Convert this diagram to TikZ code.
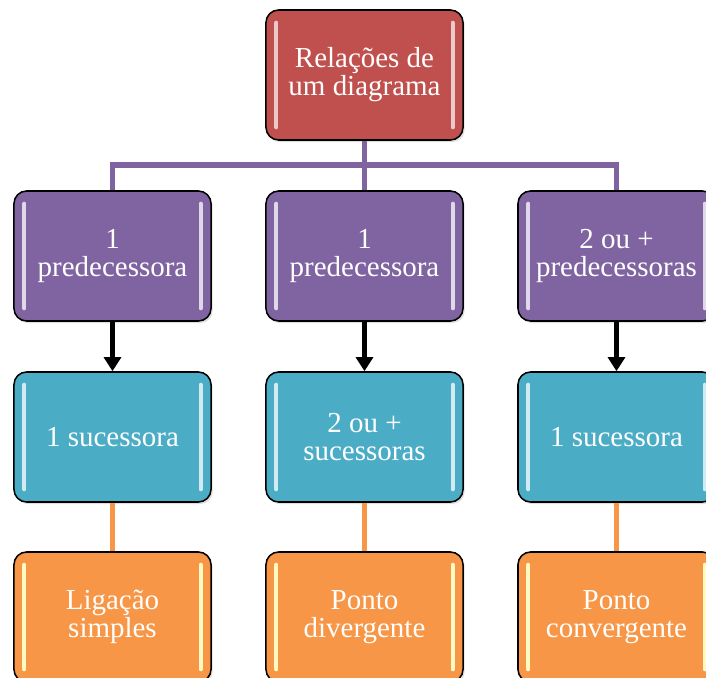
\documentclass[tikz,border=0pt]{standalone}
\usepackage{fontspec}
\setmainfont{Liberation Serif}
\usetikzlibrary{arrows.meta,shadows}
\definecolor{rootred}{HTML}{C0504D}
\definecolor{predpurple}{HTML}{8064A2}
\definecolor{succblue}{HTML}{4BACC6}
\definecolor{resorange}{HTML}{F79646}
\tikzset{
  box/.style={draw=black, line width=1.1pt, rounded corners=9pt,
    minimum width=4.925cm, minimum height=3.25cm, align=center,
    text=white, font=\fontsize{20.6}{20}\selectfont,
    drop shadow={opacity=0.25, shadow xshift=1.2pt, shadow yshift=-1.5pt},
    path picture={
      \draw[#1, line width=3pt, line cap=round]
        ([xshift=0.26cm,yshift=-0.32cm]path picture bounding box.north west)
        -- ([xshift=0.26cm,yshift=0.32cm]path picture bounding box.south west);
      \draw[#1, line width=3pt, line cap=round]
        ([xshift=-0.26cm,yshift=-0.32cm]path picture bounding box.north east)
        -- ([xshift=-0.26cm,yshift=0.32cm]path picture bounding box.south east);
    }},
  root/.style={box=rootred!30!white, fill=rootred},
  pred/.style={box=predpurple!25!white, fill=predpurple},
  succ/.style={box=succblue!25!white, fill=succblue},
  res/.style={box=resorange!20!yellow!25!white, fill=resorange},
  tree/.style={draw=predpurple, line width=3.6pt},
  flow/.style={draw=black, line width=3.4pt, -{Triangle[length=10pt,width=12pt]}},
  leaf/.style={draw=resorange, line width=3.6pt}
}
\begin{document}
\begin{tikzpicture}[x=0.025cm, y=-0.025cm]
\useasboundingbox (0,0) rectangle (706,678);

% top of the tree
\node[root] (top) at (364.5,75) {Relações de\\um diagrama};

% predecessors
\node[pred] (p1) at (112.5,256) {1\\predecessora};
\node[pred] (p2) at (364.5,256) {1\\predecessora};
\node[pred] (p3) at (616.5,256) {2 ou +\\predecessoras};

% successors
\node[succ] (s1) at (112.5,437) {1 sucessora};
\node[succ] (s2) at (364.5,437) {2 ou +\\sucessoras};
\node[succ] (s3) at (616.5,437) {1 sucessora};

% results
\node[res] (r1) at (112.5,617) {Ligação\\simples};
\node[res] (r2) at (364.5,617) {Ponto\\divergente};
\node[res] (r3) at (616.5,617) {Ponto\\convergente};

% purple bus
\coordinate (bus) at (364.5,165);
\draw[tree] (top.south) -- (p2.north);
\draw[tree] (bus) -| (p1.north);
\draw[tree] (bus) -| (p3.north);

\draw[flow] (p1) -- (s1);
\draw[flow] (p2) -- (s2);
\draw[flow] (p3) -- (s3);

\draw[leaf] (s1) -- (r1);
\draw[leaf] (s2) -- (r2);
\draw[leaf] (s3) -- (r3);
\end{tikzpicture}
\end{document}
